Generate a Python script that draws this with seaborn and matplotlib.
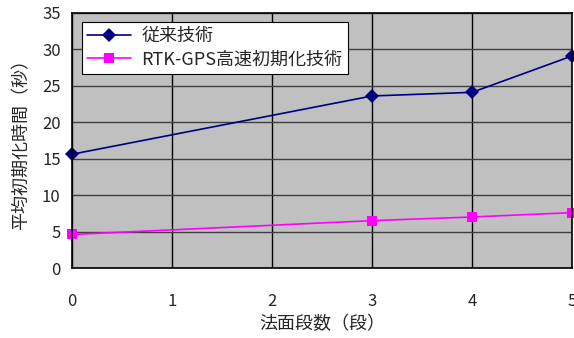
import numpy as np
import pandas as pd
import matplotlib
matplotlib.use("Agg")
import matplotlib.pyplot as plt
import seaborn as sns

steps = [0, 3, 4, 5]
conventional = [15.6, 23.6, 24.1, 29.1]
rtk_gps = [4.6, 6.5, 7.0, 7.6]
series_names = ["従来技術", "RTK-GPS高速初期化技術"]
y_ticks = [0, 5, 10, 15, 20, 25, 30, 35]
x_ticks = [0, 1, 2, 3, 4, 5]

df = pd.DataFrame({
    "段数": steps * 2,
    "時間": conventional + rtk_gps,
    "系列": [series_names[0]] * len(steps) + [series_names[1]] * len(steps),
})

sns.set_style("white")
plt.rcParams['font.family'] = ['Noto Sans CJK JP', 'DejaVu Sans']

fig, ax = plt.subplots(figsize=(5.74, 3.38), dpi=100)
fig.subplots_adjust(left=0.125, right=0.997, top=0.962, bottom=0.207)
ax.set_facecolor("#c0c0c0")

sns.lineplot(data=df, x="段数", y="時間", hue="系列", style="系列",
             palette=["#000080", "#ff00ff"], markers=["D", "s"], dashes=False,
             markersize=7, markeredgewidth=0, linewidth=1.2, ax=ax, clip_on=False)

ax.set_xlim(0, 5)
ax.set_ylim(0, 35)
ax.set_xticks(x_ticks)
ax.set_yticks(y_ticks)
ax.yaxis.grid(True, color="#404040", linewidth=1)
ax.xaxis.grid(True, color="black", linewidth=1)
ax.set_axisbelow(True)
for s in ax.spines.values():
    s.set_color("black")
    s.set_linewidth(1.2)
ax.tick_params(axis="x", length=0, pad=18, labelsize=12)
ax.tick_params(axis="y", length=0, pad=8, labelsize=12)
ax.set_xlabel("法面段数（段）", fontsize=13, labelpad=4)
ax.set_ylabel("平均初期化時間（秒）", fontsize=13, labelpad=8)

leg = ax.legend(loc="upper left", bbox_to_anchor=(0.02, 0.965), borderaxespad=0,
                fontsize=13, frameon=True, fancybox=False, edgecolor="black",
                framealpha=1, handlelength=2.4, borderpad=0.3, labelspacing=0.3,
                handletextpad=0.6)
leg.get_frame().set_linewidth(0.8)

fig.savefig("out.png", dpi=100)
